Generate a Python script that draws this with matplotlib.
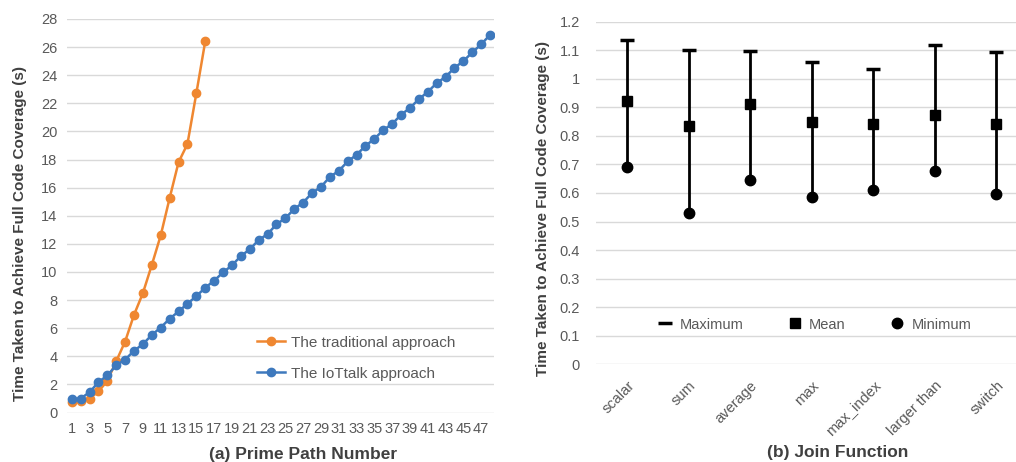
import matplotlib.pyplot as plt

plt.rcParams['font.family'] = ['Liberation Sans', 'DejaVu Sans']

# (a) prime path number vs time
path_idx = list(range(1, 49))
traditional = [0.75, 0.8, 1.0, 1.5, 2.25, 3.65, 5.05, 6.95, 8.5, 10.5, 12.6, 15.25,
               17.8, 19.1, 22.7, 26.4]
iottalk = [0.97, 1.0, 1.44, 2.16, 2.64, 3.36, 3.77, 4.39, 4.87, 5.52, 6.05, 6.67,
           7.19, 7.74, 8.28, 8.88, 9.38, 9.97, 10.47, 11.13, 11.61, 12.27, 12.69, 13.39,
           13.82, 14.48, 14.94, 15.62, 16.05, 16.76, 17.19, 17.86, 18.33, 18.97, 19.47, 20.09,
           20.53, 21.18, 21.67, 22.29, 22.81, 23.43, 23.88, 24.52, 25.0, 25.62, 26.19, 26.87]

# (b) join functions
functions = ['scalar', 'sum', 'average', 'max', 'max_index', 'larger than', 'switch']
t_max = [1.136, 1.101, 1.097, 1.058, 1.034, 1.117, 1.093]
t_mean = [0.923, 0.835, 0.912, 0.849, 0.842, 0.873, 0.842]
t_min = [0.692, 0.529, 0.646, 0.587, 0.610, 0.677, 0.595]

GRAY = '#595959'
GRID = '#d9d9d9'
BLUE = '#3e79bd'
ORANGE = '#ef8731'

fig = plt.figure(figsize=(10.16, 4.62), dpi=100)

# ---- left chart
ax1 = fig.add_axes([0.0662, 0.107, 0.4205, 0.852])
ax1.plot(path_idx[:len(traditional)], traditional, color=ORANGE, lw=1.8,
         marker='o', ms=6, label='The traditional approach')
ax1.plot(path_idx, iottalk, color=BLUE, lw=1.8, marker='o', ms=6,
         label='The IoTtalk approach')
ax1.set_xlim(0.5, 48.5)
ax1.set_ylim(0, 28)
ax1.set_yticks(range(0, 29, 2))
ax1.set_xticks(path_idx[::2])
ax1.tick_params(length=0, labelsize=10.5, labelcolor=GRAY, pad=7)
ax1.grid(axis='y', color=GRID, lw=1)
ax1.set_axisbelow(True)
for s in ax1.spines.values():
    s.set_visible(False)
ax1.set_ylabel('Time Taken to Achieve Full Code Coverage (s)', fontsize=11,
               fontweight='bold', color='#404040', labelpad=10)
ax1.yaxis.label.set_y(0.456)
ax1.set_xlabel('(a) Prime Path Number', fontsize=12.5, fontweight='bold',
               color='#404040')
ax1.xaxis.set_label_coords(0.552, -0.088)
ax1.legend(loc='upper left', bbox_to_anchor=(0.444, 0.195), frameon=False, fontsize=11,
           labelcolor=GRAY, handlelength=1.85, handletextpad=0.35, labelspacing=1.1,
           borderpad=0, borderaxespad=0)

# ---- right chart
pos = list(range(len(functions)))
ax2 = fig.add_axes([0.587, 0.2115, 0.413, 0.7416])
ax2.vlines(pos, t_min, t_max, color='black', lw=2)
ax2.plot(pos, t_max, ls='none', marker='_', ms=10, mew=2.5, color='black', label='Maximum')
ax2.plot(pos, t_mean, ls='none', marker='s', ms=7.5, color='black', label='Mean')
ax2.plot(pos, t_min, ls='none', marker='o', ms=7.5, color='black', label='Minimum')
ax2.set_xlim(-0.5, 6.32)
ax2.set_ylim(0, 1.2)
ax2.set_yticks([i / 10 for i in range(13)])
ax2.set_yticklabels(['0'] + ['%g' % (i / 10) for i in range(1, 13)])
ax2.set_xticks(pos)
ax2.set_xticklabels(functions, rotation=45, ha='right', rotation_mode='anchor')
ax2.tick_params(length=0, labelsize=10.5, labelcolor=GRAY)
ax2.tick_params(axis='x', pad=10)
ax2.tick_params(axis='y', pad=12)
ax2.grid(axis='y', color=GRID, lw=1)
ax2.set_axisbelow(True)
for s in ax2.spines.values():
    s.set_visible(False)
ax2.set_ylabel('Time Taken to Achieve Full Code Coverage (s)', fontsize=11,
               fontweight='bold', color='#404040', labelpad=6.5)
ax2.yaxis.label.set_y(0.456)
ax2.set_xlabel('(b) Join Function', fontsize=12.5, fontweight='bold', color='#404040')
ax2.xaxis.set_label_coords(0.575, -0.236)
ax2.legend(loc='center', bbox_to_anchor=(0.52, 0.116), ncol=3, frameon=False,
           fontsize=10.5, labelcolor=GRAY, handlelength=1.0, handletextpad=0.5,
           columnspacing=3.0)

fig.savefig('out.png', dpi=100)
